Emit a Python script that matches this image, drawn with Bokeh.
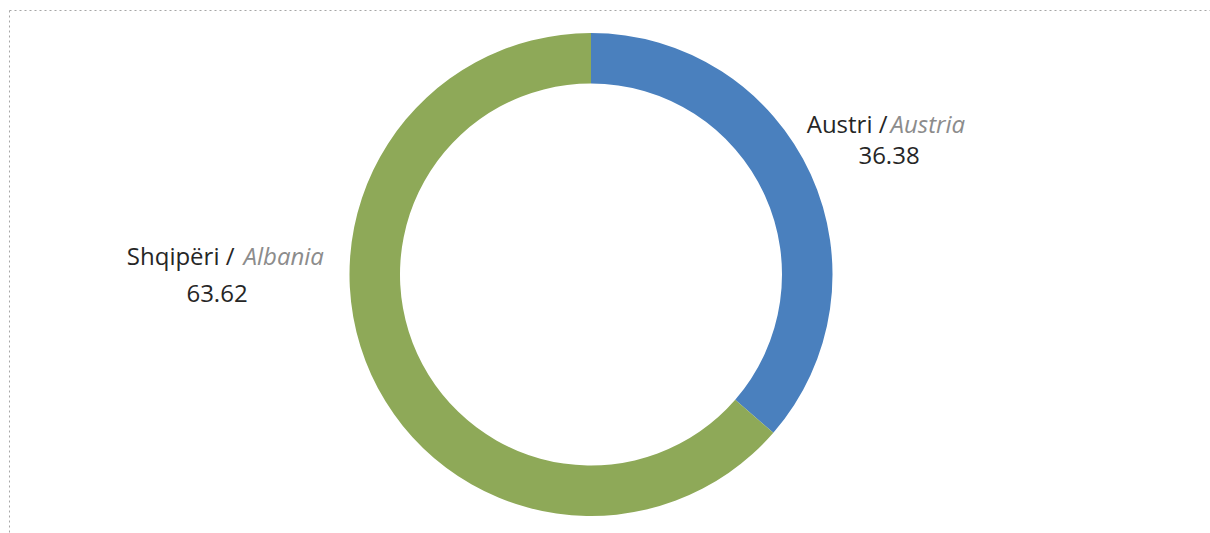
from bokeh.plotting import figure
from bokeh.models import Range1d, ColumnDataSource
from bokeh.core.properties import value
from bokeh.embed import file_html
from bokeh.resources import INLINE
import math

# data
categories_sq = ["Austri /", "Shqipëri /"]
categories_en = ["Austria", "Albania"]
shares = [36.38, 63.62]
share_labels = ["36.38", "63.62"]
colors = ["#4A80BE", "#8EA958"]

W, H = 1210, 533
p = figure(width=W, height=H, output_backend="svg", toolbar_location=None,
           x_range=Range1d(0, W), y_range=Range1d(0, H),
           min_border=0, outline_line_color=None)
p.axis.visible = False
p.grid.visible = False
p.background_fill_color = "white"

# donut geometry (layout, page pixels; y measured from top)
cx, cy = 590.5, H - 274
r_out, r_in = 241.5, 191

total = sum(shares)
start = math.pi / 2
starts, ends = [], []
for s in shares:
    sweep = s / total * 2 * math.pi
    ends.append(start)
    starts.append(start - sweep)
    start -= sweep

src = ColumnDataSource(dict(start=starts, end=ends, color=colors))
p.annular_wedge(x=cx, y=cy, inner_radius=r_in, outer_radius=r_out,
                start_angle="start", end_angle="end", direction="anticlock",
                color="color", source=src, line_color=None)

# labels (layout positions, page pixels)
label_right_x = [887, 234]
label_left_x = [890, 243]
label_line1_y = [123, 255]
label_num_x = [888.5, 216.5]
label_num_y = [155, 293]
font = value("Open Sans")
fs = "24px"
for i in range(2):
    p.text(x=[label_right_x[i]], y=[H - label_line1_y[i]], text=[categories_sq[i]],
           text_font=font, text_font_size=fs, text_color="#262626",
           text_align="right", text_baseline="middle")
    p.text(x=[label_left_x[i]], y=[H - label_line1_y[i]], text=[categories_en[i]],
           text_font=font, text_font_size=fs, text_color="#8c8c8c", text_font_style="italic",
           text_align="left", text_baseline="middle")
    p.text(x=[label_num_x[i]], y=[H - label_num_y[i]], text=[share_labels[i]],
           text_font=font, text_font_size=fs, text_color="#262626",
           text_align="center", text_baseline="middle")

# dotted border (top and left)
p.segment(x0=[9, 9], y0=[H - 10, H - 10], x1=[W, 9], y1=[H - 10, 0],
          line_color="#a6a6a6", line_width=1, line_dash="2 3")

open("out.html", "w").write(file_html(p, INLINE))
